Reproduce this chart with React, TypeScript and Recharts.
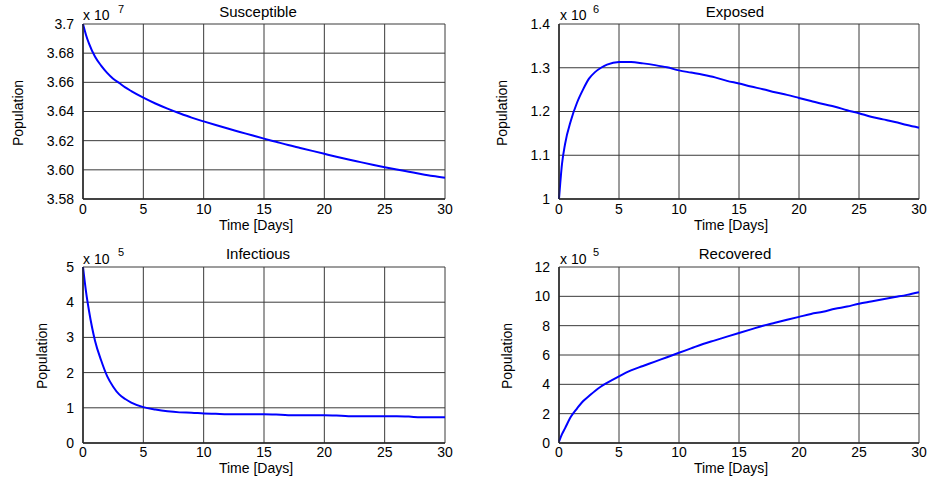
import React from 'react';
import { LineChart, Line, XAxis, YAxis, CartesianGrid } from 'recharts';

// time axis shared by all four panels
const days = [
  0, 0.25, 0.5, 1, 1.5, 2, 2.5, 3, 3.5, 4, 5, 6, 7, 8, 9, 10, 11, 12, 13, 14, 15, 16, 17, 18, 19, 20, 21,
  22, 23, 24, 25, 26, 27, 28, 29, 30,
];

// values in the units shown on each axis (x 10^7, x 10^6, x 10^5, x 10^5)
const susceptible = [
  3.7, 3.6925, 3.6865, 3.6775, 3.6715, 3.6665, 3.6625, 3.6595, 3.6565, 3.654, 3.6495, 3.6455, 3.642, 3.6388,
  3.6358, 3.6332, 3.6307, 3.6283, 3.626, 3.6237, 3.6214, 3.6192, 3.617, 3.615, 3.613, 3.611, 3.609, 3.6071,
  3.6053, 3.6035, 3.6018, 3.6002, 3.5987, 3.5972, 3.5958, 3.5946,
];
const exposed = [
  1.0, 1.08, 1.125, 1.18, 1.22, 1.25, 1.275, 1.29, 1.3, 1.307, 1.313, 1.313, 1.31, 1.306, 1.301, 1.294,
  1.289, 1.284, 1.278, 1.27, 1.264, 1.257, 1.251, 1.244, 1.238, 1.231, 1.224, 1.217, 1.211, 1.203, 1.196,
  1.188, 1.182, 1.176, 1.169, 1.163,
];
const infectious = [
  5.0, 4.3, 3.75, 2.9, 2.35, 1.9, 1.6, 1.38, 1.25, 1.15, 1.02, 0.95, 0.9, 0.87, 0.86, 0.84, 0.83, 0.82,
  0.82, 0.82, 0.82, 0.81, 0.79, 0.79, 0.79, 0.79, 0.78, 0.76, 0.76, 0.76, 0.76, 0.76, 0.75, 0.73, 0.73,
  0.73,
];
const recovered = [
  0.1, 0.6, 1.0, 1.8, 2.35, 2.85, 3.2, 3.55, 3.85, 4.1, 4.55, 4.95, 5.25, 5.55, 5.85, 6.15, 6.45, 6.75,
  7.0, 7.25, 7.5, 7.75, 8.0, 8.2, 8.4, 8.6, 8.8, 8.95, 9.15, 9.3, 9.5, 9.65, 9.8, 9.95, 10.1, 10.28,
];

const xTicks = [0, 5, 10, 15, 20, 25, 30];
const sTicks = [3.58, 3.6, 3.62, 3.64, 3.66, 3.68, 3.7];
const sTickLabels = ['3.58', '3.60', '3.62', '3.64', '3.66', '3.68', '3.7'];
const eTicks = [1, 1.1, 1.2, 1.3, 1.4];
const eTickLabels = ['1', '1.1', '1.2', '1.3', '1.4'];
const iTicks = [0, 1, 2, 3, 4, 5];
const iTickLabels = ['0', '1', '2', '3', '4', '5'];
const rTicks = [0, 2, 4, 6, 8, 10, 12];
const rTickLabels = ['0', '2', '4', '6', '8', '10', '12'];

const FONT = '"Liberation Sans", Arial, sans-serif';
const BLUE = '#0000ff';
const GRID = '#3a3a3a';
const BOX = '#262626';

interface PanelProps {
  left: number;
  top: number;
  values: number[];
  ticks: number[];
  labels: string[];
  yAxisWidth: number;
  marginTop: number;
  marginRight: number;
  xAxisHeight: number;
  xTickGap: number;
}

function Panel({ left, top, values, ticks, labels, yAxisWidth, marginTop, marginRight, xAxisHeight, xTickGap }: PanelProps) {
  const chartData = days.map((d, i) => ({ day: d, value: values[i] }));
  const domain = [ticks[0], ticks[ticks.length - 1]];
  const tickStyle = { fill: '#000', fontSize: 14, fontFamily: FONT };

  return (
    <div style={{ position: 'absolute', left, top }}>
      <LineChart
        width={464}
        height={240}
        data={chartData}
        margin={{ top: marginTop, right: marginRight, left: 0, bottom: 0 }}
      >
        <CartesianGrid stroke={GRID} strokeWidth={1} />
        <XAxis
          dataKey="day"
          type="number"
          domain={[0, 30]}
          ticks={xTicks}
          height={xAxisHeight}
          tick={tickStyle}
          tickLine={false}
          tickSize={4}
          tickMargin={xTickGap - 4}
          axisLine={{ stroke: BOX, strokeWidth: 1.5 }}
          interval={0}
        />
        <XAxis xAxisId="top" orientation="top" type="number" domain={[0, 30]} height={0} tick={false} tickLine={false} axisLine={{ stroke: BOX, strokeWidth: 1.5 }} />
        <YAxis
          type="number"
          domain={domain}
          ticks={ticks}
          width={yAxisWidth}
          tick={tickStyle}
          tickLine={false}
          tickSize={6}
          tickMargin={3}
          interval={0}
          axisLine={{ stroke: BOX, strokeWidth: 1.5 }}
          tickFormatter={(v) => {
            const idx = ticks.findIndex((t) => Math.abs(t - v) < 1e-9);
            return idx >= 0 ? labels[idx] : String(v);
          }}
          allowDataOverflow
        />
        <YAxis yAxisId="right" orientation="right" width={0} tick={false} tickLine={false} axisLine={{ stroke: BOX, strokeWidth: 1.5 }} />
        <Line
          type="monotone"
          dataKey="value"
          stroke={BLUE}
          strokeWidth={2}
          dot={false}
          isAnimationActive={false}
        />
      </LineChart>
    </div>
  );
}

function Texts() {
  const t = { fontFamily: FONT, fill: '#000' };
  return (
    <svg width={928} height={480} style={{ position: 'absolute', left: 0, top: 0, pointerEvents: 'none' }}>
      <g {...t} fontSize={15} textAnchor="middle">
        <text x={258} y={17}>Susceptible</text>
        <text x={735} y={17}>Exposed</text>
        <text x={258} y={259}>Infectious</text>
        <text x={735} y={259}>Recovered</text>
      </g>
      <g {...t} fontSize={14} textAnchor="middle">
        <text x={256} y={230}>Time [Days]</text>
        <text x={731} y={230}>Time [Days]</text>
        <text x={256} y={473}>Time [Days]</text>
        <text x={731} y={473}>Time [Days]</text>
        <text transform="translate(23,113) rotate(-90)">Population</text>
        <text transform="translate(507,113) rotate(-90)">Population</text>
        <text transform="translate(47,356) rotate(-90)">Population</text>
        <text transform="translate(512,356) rotate(-90)">Population</text>
      </g>
      <g {...t} fontSize={14}>
        <text x={83} y={20}>x 10</text>
        <text x={560} y={20}>x 10</text>
        <text x={83} y={264}>x 10</text>
        <text x={560} y={264}>x 10</text>
      </g>
      <g {...t} fontSize={11}>
        <text x={118} y={13}>7</text>
        <text x={593} y={13}>6</text>
        <text x={118} y={256}>5</text>
        <text x={593} y={256}>5</text>
      </g>
    </svg>
  );
}

export default function App() {
  return (
    <div style={{ position: 'absolute', left: 0, top: 0, width: 928, height: 480, background: '#fff', overflow: 'hidden' }}>
      <Panel left={0} top={0} values={susceptible} ticks={sTicks} labels={sTickLabels} yAxisWidth={83} marginTop={24} marginRight={19} xAxisHeight={41} xTickGap={5} />
      <Panel left={464} top={0} values={exposed} ticks={eTicks} labels={eTickLabels} yAxisWidth={95} marginTop={24} marginRight={9} xAxisHeight={41} xTickGap={5} />
      <Panel left={0} top={240} values={infectious} ticks={iTicks} labels={iTickLabels} yAxisWidth={83} marginTop={27} marginRight={19} xAxisHeight={37} xTickGap={4} />
      <Panel left={464} top={240} values={recovered} ticks={rTicks} labels={rTickLabels} yAxisWidth={95} marginTop={27} marginRight={9} xAxisHeight={37} xTickGap={4} />
      <Texts />
    </div>
  );
}
